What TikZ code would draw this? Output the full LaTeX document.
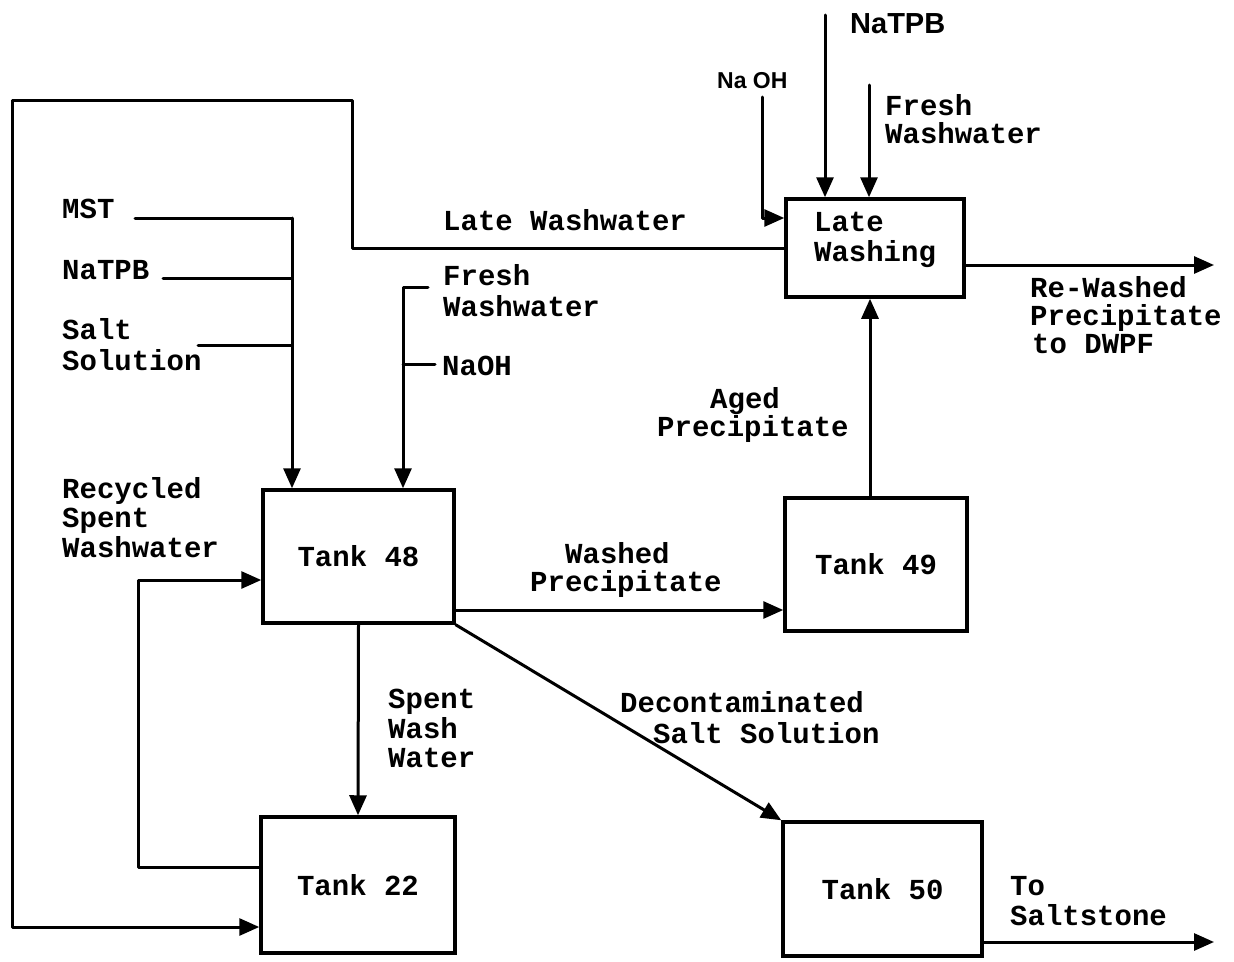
\documentclass[tikz,border=0pt]{standalone}
\usepackage{fontspec}
\setmonofont{Liberation Mono}
\newfontfamily\handfont{Liberation Sans}
\usetikzlibrary{arrows.meta,calc}
\begin{document}
\begin{tikzpicture}[x=1pt,y=-1pt,
  every node/.style={font=\ttfamily\bfseries\fontsize{29}{30}\selectfont},
  lbl/.style={anchor=base west, inner sep=0pt},
  tankbox/.style={draw, line width=3.5pt, inner sep=0pt, align=left},
  flow/.style={line width=3pt, line cap=round, line join=round},
  arr/.style={flow, -{Triangle[length=20pt,width=17pt]}}
]
\useasboundingbox (0,0) rectangle (1234,961);

% boxes
\node[tankbox, minimum width=178pt, minimum height=98pt] (lw) at (875,248) {Late\\Washing\\[-8pt]\mbox{}};
\node[tankbox, minimum width=191pt, minimum height=133pt] (t48) at (358.5,556.5) {Tank 48};
\node[tankbox, minimum width=182pt, minimum height=133pt] (t49) at (876,564.5) {Tank 49};
\node[tankbox, minimum width=194pt, minimum height=136pt] (t22) at (358,885) {Tank 22};
\node[tankbox, minimum width=199pt, minimum height=134pt] (t50) at (882.5,889) {Tank 50};

% labels
\node[lbl] (lww) at (443,230) {Late Washwater};
\node[lbl, font=\handfont\bfseries\fontsize{29}{31}\selectfont] (natpbT) at (850,33) {NaTPB};
\node[lbl, font=\handfont\bfseries\fontsize{23}{25}\selectfont] (naohT) at (717,88) {Na OH};
\node[lbl] (fresh1) at (885,115) {Fresh};
\node[lbl] (fresh2) at (885,143) {Washwater};
\node[lbl] (rw1) at (1030,297) {Re-Washed};
\node[lbl] (rw2) at (1030,325) {Precipitate};
\node[lbl] (rw3) at (1032,353) {to DWPF};
\node[lbl] (aged1) at (710,408) {Aged};
\node[lbl] (aged2) at (657,436) {Precipitate};
\node[lbl] (mst) at (62,218) {MST};
\node[lbl] (natpb) at (62,279) {NaTPB};
\node[lbl] (salt1) at (62,339) {Salt};
\node[lbl] (salt2) at (62,370) {Solution};
\node[lbl] (fw1) at (443,285) {Fresh};
\node[lbl] (fw2) at (443,316) {Washwater};
\node[lbl] (naoh2) at (442,375) {NaOH};
\node[lbl] (rc1) at (62,498) {Recycled};
\node[lbl] (rc2) at (62,527) {Spent};
\node[lbl] (rc3) at (62,557) {Washwater};
\node[lbl] (sp1) at (388,708) {Spent};
\node[lbl] (sp2) at (388,738) {Wash};
\node[lbl] (sp3) at (388,767) {Water};
\node[lbl] (wp1) at (565,563) {Washed};
\node[lbl] (wp2) at (530,591) {Precipitate};
\node[lbl] (dc1) at (620,712) {Decontaminated};
\node[lbl] (dc2) at (653,743) {Salt Solution};
\node[lbl] (ts1) at (1010,895) {To};
\node[lbl] (ts2) at (1010,925) {Saltstone};

% coordinates
\coordinate (lwA) at (352,100);
\coordinate (lwB) at (12,100);
\coordinate (lwC) at (12,927);
\coordinate (naohTop) at (762,97);
\coordinate (natpbTop) at (825,15);
\coordinate (frTop) at (869,85);
\coordinate (rwEnd) at (1214,265);
\coordinate (agedX) at (870,400);
\coordinate (mstL) at (135,218);
\coordinate (feedX) at (292,218);
\coordinate (natpbL) at (163,278);
\coordinate (saltL) at (198,345);
\coordinate (fwR) at (428,287);
\coordinate (fwX) at (403,287);
\coordinate (naoh2R) at (435,364);
\coordinate (wpY) at (600,610);
\coordinate (rcA) at (138,867);
\coordinate (rcB) at (138,580);
\coordinate (ssEnd) at (1214,942);

% connectors
\draw[arr] (lw.west) -| (lwA) -- (lwB) -- (lwC) -- (lwC -| t22.west);
\draw[arr] (naohTop) |- ([yshift=30pt]lw.west);
\draw[arr] (natpbTop) -- (natpbTop |- lw.north);
\draw[arr] (frTop) -- (frTop |- lw.north);
\draw[arr] ([yshift=-17pt]lw.east) -- (rwEnd);
\draw[arr] (agedX |- t49.north) -- (agedX |- lw.south);
\draw[flow] (mstL) -- (feedX);
\draw[flow] (natpbL) -- (natpbL -| feedX);
\draw[flow] (saltL) -- (saltL -| feedX);
\draw[arr] (feedX) -- (feedX |- t48.north);
\draw[arr] (fwR) -- (fwX) -- (fwX |- t48.north);
\draw[flow] (naoh2R -| fwX) -- (naoh2R);
\draw[arr] (wpY -| t48.east) -- (wpY -| t49.west);
\draw[arr] (t48.south east) -- (t50.north west);
\draw[arr] (t48.south) -- (t22.north);
\draw[arr] (rcA -| t22.west) -- (rcA) -- (rcB) -- (rcB -| t48.west);
\draw[arr] (ssEnd -| t50.east) -- (ssEnd);
\end{tikzpicture}
\end{document}
